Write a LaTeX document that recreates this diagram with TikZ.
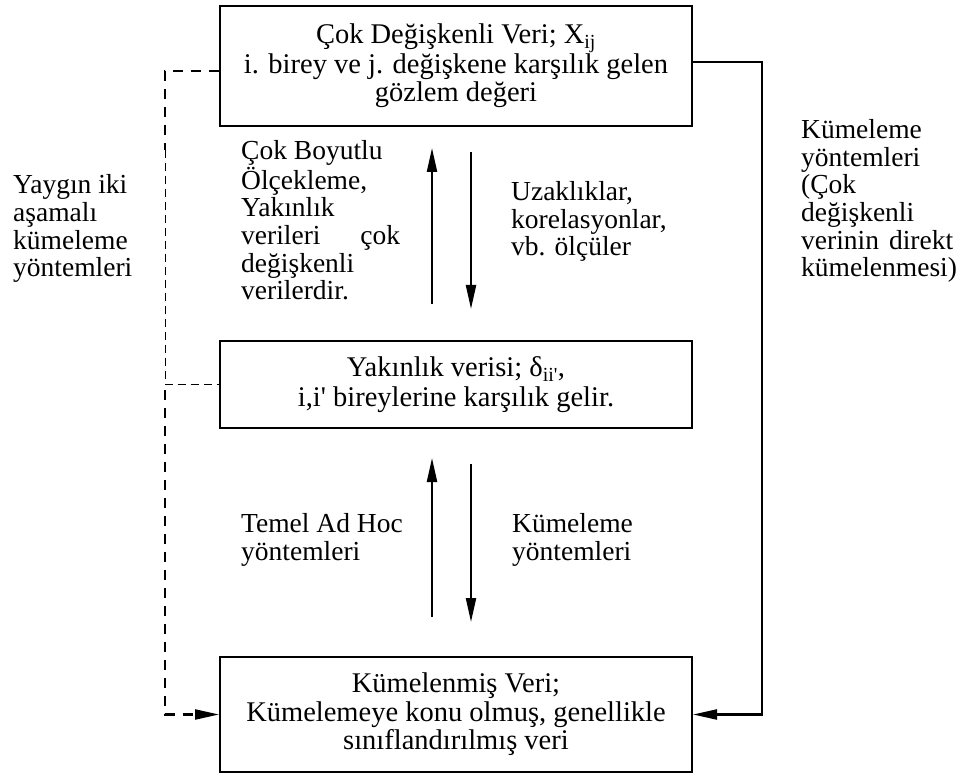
\documentclass[tikz,border=0pt]{standalone}
\usepackage{fontspec}
\setmainfont{Liberation Serif}[Ligatures=TeXOff]
\usetikzlibrary{arrows.meta,calc}
\tikzset{
  every node/.style={font=\fontsize{27.5}{27.7}\selectfont,inner sep=0pt},
  veribox/.style={draw,line width=2pt,minimum width=472pt,align=center,
    font=\fontsize{28.5}{28.5}\selectfont},
  okcizgi/.style={line width=2.2pt,-{Triangle[length=24pt,width=10pt]}},
  kalinkesik/.style={line width=2.2pt,dash pattern=on 10pt off 8pt},
  incekesik/.style={line width=1pt,dash pattern=on 8pt off 5pt},
  yazi/.style={anchor=base west,align=left}
}

\begin{document}
\begin{tikzpicture}[x=1pt,y=-1pt]
  \useasboundingbox (0,0) rectangle (958,775);
  % veri kutulari
  \node[veribox,minimum height=120pt] (cok) at (456,66)
    {Çok Değişkenli Veri; X\textsubscript{ij}\\i. birey ve j. değişkene karşılık gelen\\gözlem değeri};
  \node[veribox,minimum height=87pt,font=\fontsize{28.5}{30}\selectfont] (yak) at (456,384.5)
    {Yakınlık verisi; δ\textsubscript{ii'},\\i,i' bireylerine karşılık gelir.};
  \node[veribox,minimum height=115pt] (kum) at (456,714.5)
    {Kümelenmiş Veri;\\Kümelemeye konu olmuş, genellikle\\sınıflandırılmış veri};
  % ara oklar
  \draw[okcizgi] ([xshift=-24pt,yshift=36pt]yak.north) -- ([xshift=-24pt,yshift=-21pt]cok.south);
  \draw[okcizgi] ([xshift=15pt,yshift=-25pt]cok.south) -- ([xshift=15pt,yshift=31pt]yak.north);
  \draw[okcizgi] ([xshift=-24pt,yshift=39pt]kum.north) -- ([xshift=-24pt,yshift=-29pt]yak.south);
  \draw[okcizgi] ([xshift=15pt,yshift=-35pt]yak.south) -- ([xshift=15pt,yshift=34pt]kum.north);
  % dogrudan kumeleme
  \draw[okcizgi] ([yshift=4pt]cok.east) -- ++(69,0) |- (kum.east);
  % iki asamali yol
  \coordinate (solust) at (165,71);
  \coordinate (solkir) at (165,150);
  \coordinate (solalt) at (165,390);
  \draw[kalinkesik] ([yshift=-5pt]cok.west) -- (solust) -- (solkir);
  \draw[incekesik] (solkir) |- (yak.west);
  \draw[kalinkesik,-{Triangle[length=24pt,width=10pt]}] (solalt) |- (kum.west);
  % aciklamalar (base = son satir)
  \node[yazi] (ikiasama) at (13,277) {Yaygın iki\\aşamalı\\kümeleme\\yöntemleri};
  \node[yazi] (cboyut) at (241,300)
    {Çok Boyutlu\\Ölçekleme,\\Yakınlık\\\makebox[159pt][s]{verileri çok}\\değişkenli\\verilerdir.};
  \node[yazi] (uzak) at (511,256) {Uzaklıklar,\\korelasyonlar,\\vb. ölçüler};
  \node[yazi] (adhoc) at (241,560) {Temel Ad Hoc\\yöntemleri};
  \node[yazi] (kyontem) at (512,560) {Kümeleme\\yöntemleri};
  \node[yazi] (direkt) at (801,277)
    {Kümeleme\\yöntemleri\\(Çok\\değişkenli\\\makebox[152pt][s]{verinin direkt}\\kümelenmesi)};
\end{tikzpicture}
\end{document}
